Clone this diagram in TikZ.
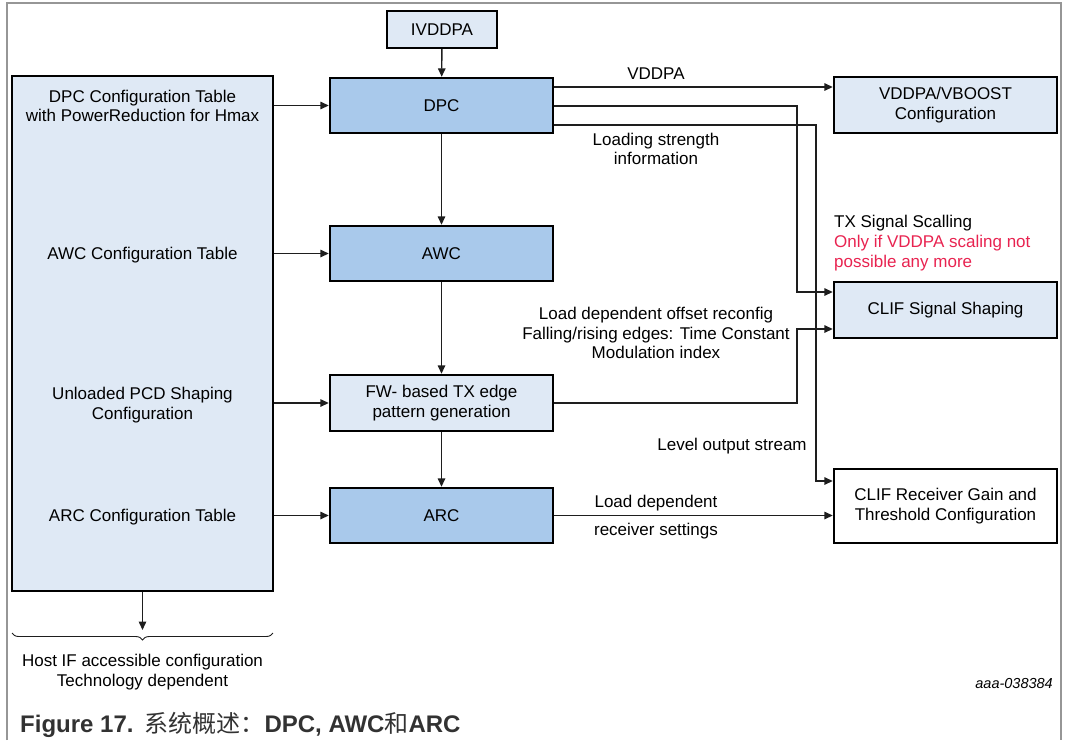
\documentclass[tikz,border=0pt]{standalone}
\usepackage{fontspec}
\setmainfont{Liberation Sans}
\newfontfamily\cjk{Noto Sans CJK SC}
\usetikzlibrary{arrows.meta,decorations.pathreplacing,positioning}

\definecolor{boxdark}{RGB}{169,201,235}
\definecolor{boxlight}{RGB}{223,233,245}
\definecolor{noteRed}{RGB}{232,35,80}
\definecolor{frameGray}{RGB}{150,150,150}
\definecolor{lineInk}{RGB}{30,30,30}
\definecolor{capInk}{RGB}{50,50,50}

\tikzset{
  blockbox/.style={draw=black, line width=2.4pt, align=center, inner sep=0pt,
    font=\fontsize{17}{19.8}\selectfont},
  darkbox/.style={blockbox, fill=boxdark},
  lightbox/.style={blockbox, fill=boxlight},
  whitebox/.style={blockbox, fill=white},
  conn/.style={draw=lineInk, line width=1.4pt, -{Triangle[length=8.5pt,width=7.5pt]}},
  lbl/.style={align=center, inner sep=0pt, font=\fontsize{17}{19.8}\selectfont},
}

\begin{document}
\begin{tikzpicture}[x=1pt, y=-1pt]
\useasboundingbox (0,0) rectangle (1066,740);

% outer frame
\draw[frameGray, line width=1.2pt] (7,740) -- (7,3) -- (1061,3) -- (1061,740);

% configuration table column
\node[lightbox, minimum width=261pt, minimum height=515pt] (cfg) at (142.5,333.5) {};
\node[lbl] (cfgdpc) at (142.5,106) {DPC Configuration Table\\with PowerReduction for Hmax};
\node[lbl] (cfgawc) at (142.5,255) {AWC Configuration Table};
\node[lbl] (cfgpcd) at (142.5,405) {Unloaded PCD Shaping\\Configuration};
\node[lbl] (cfgarc) at (142.5,517) {ARC Configuration Table};

% processing chain
\node[lightbox, minimum width=110pt, minimum height=37pt] (ivddpa) at (442,29.5) {IVDDPA};
\node[darkbox, minimum width=223pt, minimum height=55pt] (dpc) at (441.5,105.5) {DPC};
\node[darkbox, minimum width=223pt, minimum height=55pt] (awc) at (441.5,253.5) {AWC};
\node[lightbox, minimum width=223pt, minimum height=56pt] (fw) at (441.5,403) {FW- based TX edge\\pattern generation};
\node[darkbox, minimum width=223pt, minimum height=55pt] (arc) at (441.5,515.5) {ARC};

% targets
\node[lightbox, minimum width=223pt, minimum height=56pt] (vboost) at (945.5,105) {VDDPA/VBOOST\\Configuration};
\node[lightbox, minimum width=223pt, minimum height=56pt] (clifs) at (945.5,310) {CLIF Signal Shaping};
\node[whitebox, minimum width=223pt, minimum height=74pt] (clifr) at (945.5,506) {CLIF Receiver Gain and\\Threshold Configuration};

% vertical chain
\draw[conn] (ivddpa) -- (dpc);
\draw[conn] (dpc) -- (awc);
\draw[conn] (awc) -- (fw);
\draw[conn] (fw) -- (arc);

% configuration inputs
\draw[conn] (cfg.east |- dpc) -- (dpc.west);
\draw[conn] (cfg.east |- awc) -- (awc.west);
\draw[conn] (cfg.east |- fw) -- (fw.west);
\draw[conn] (cfg.east |- arc) -- (arc.west);

% routing levels
\coordinate (yv) at (0,87);
\coordinate (yl) at (0,106);
\coordinate (yr) at (0,125);
\coordinate (xl) at (797,0);
\coordinate (xr) at (816,0);
\coordinate (ys) at (0,292);
\coordinate (yf) at (0,329);
\coordinate (yo) at (0,481);

% DPC outputs
\draw[conn] (dpc.east |- yv) -- (vboost.west |- yv);
\draw[conn] (dpc.east |- yl) -- (xl |- yl) -- (xl |- ys) -- (clifs.west |- ys);
\draw[conn] (dpc.east |- yr) -- (xr |- yr) -- (xr |- yo) -- (clifr.west |- yo);
\draw[conn] (fw.east) -- (xl |- fw.east) -- (xl |- yf) -- (clifs.west |- yf);
\draw[conn] (arc.east) -- (arc.east -| clifr.west);

% connector labels
\node[lbl] (lvddpa) at (656,74) {VDDPA};
\node[lbl] (lload) at (656,149) {Loading strength\\information};
\node[lbl, align=left, anchor=west] (ltx) at (834,243) {TX Signal Scalling\\\textcolor{noteRed}{Only if VDDPA scaling not}\\\textcolor{noteRed}{possible any more}};
\node[lbl] (loffset) at (656,333) {Load dependent offset reconfig\\Falling/rising edges: Time Constant\\Modulation index};
\node[lbl] (llevel) at (732,446) {Level output stream};
\node[lbl] (lrx1) at (656,503) {Load dependent};
\node[lbl] (lrx2) at (656,531) {receiver settings};

% host interface note
\coordinate (hostend) at (142.5,630);
\draw[conn] (cfg.south) -- (hostend);
\draw[lineInk, line width=0.9pt, decorate, decoration={brace, mirror, amplitude=7pt}] (12,633) -- (273,633);
\node[lbl] (lhost) at (142.5,672) {Host IF accessible configuration\\Technology dependent};

\node[anchor=east, inner sep=0pt, font=\fontsize{14.5}{16}\selectfont\itshape] (docid) at (1053,683) {aaa-038384};

% caption
\node[anchor=west, inner sep=0pt, text=capInk, font=\fontsize{24}{28}\selectfont] (caption) at (20,725)
  {\textbf{Figure 17.}\hspace{11pt}{\cjk 系统概述：}\textbf{DPC, AWC}{\cjk 和}\textbf{ARC}};
\end{tikzpicture}
\end{document}
